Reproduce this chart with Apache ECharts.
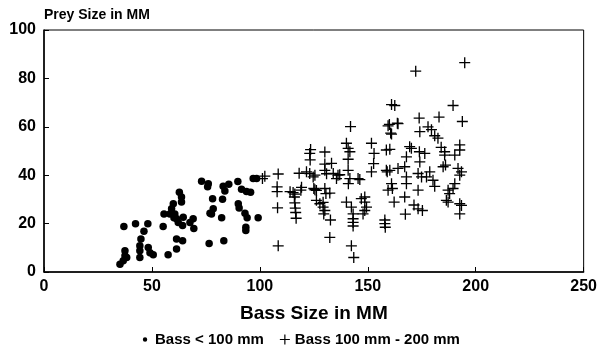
<!DOCTYPE html>
<html>
<head>
<meta charset="utf-8">
<title>Prey Size vs Bass Size</title>
<script src="https://cdn.jsdelivr.net/npm/echarts@6/dist/echarts.min.js"></script>
<style>
  html, body { margin: 0; padding: 0; background: #fff; }
  #chart { width: 600px; height: 358px; }
</style>
</head>
<body>
<div id="chart"></div>
<script>
// series names (legend)
const seriesNames = ['Bass < 100 mm', 'Bass 100 mm - 200 mm'];

// [bass size, prey size]
const smallBass = [
  [35.2, 3.2], [36.7, 4.6], [37.5, 6.7], [37.5, 8.8], [38.3, 6.0], [37.0, 18.8],
  [42.4, 19.9], [48.1, 19.9], [46.3, 16.8], [44.9, 13.6], [44.4, 10.8], [44.4, 8.8],
  [44.4, 6.0], [48.3, 10.1], [49.1, 8.0], [50.6, 7.1], [55.2, 18.8], [55.6, 24.0],
  [57.5, 7.1], [59.1, 26.1], [59.9, 28.2], [58.3, 24.0], [60.6, 24.0], [61.4, 22.0],
  [60.2, 22.4], [62.7, 33.0], [63.7, 31.0], [63.7, 28.9], [62.2, 20.5], [64.2, 19.2],
  [64.5, 22.6], [61.4, 13.6], [64.2, 12.9], [61.4, 9.5], [67.6, 20.5], [69.1, 22.0],
  [69.4, 18.0], [73.0, 37.5], [76.1, 36.5], [75.8, 35.2], [78.1, 30.3], [77.6, 24.0],
  [78.4, 26.1], [76.9, 24.3], [76.5, 11.8], [83.0, 35.4], [83.8, 33.5], [85.6, 36.3],
  [89.8, 37.4], [96.9, 38.6], [98.5, 38.6], [91.5, 34.2], [93.8, 33.3], [95.7, 33.0],
  [82.7, 30.1], [82.3, 22.4], [90.0, 28.2], [90.4, 26.4], [93.1, 24.3], [94.1, 22.4],
  [93.5, 18.5], [93.5, 17.1], [99.2, 22.4], [83.3, 12.9]
];

const bigBass = [
  [101.2, 38.6], [102.3, 39.6], [108.5, 40.5], [108.0, 35.2], [108.0, 33.2], [108.2, 26.5],
  [108.5, 10.8], [114.0, 33.2], [115.4, 32.8], [116.2, 32.2], [116.0, 31.0], [116.2, 28.6],
  [116.4, 26.4], [116.6, 24.6], [116.8, 22.2], [118.2, 40.8], [119.3, 35.0], [119.0, 33.8],
  [121.6, 41.4], [123.1, 40.7], [124.7, 39.3], [125.5, 40.0], [123.5, 50.6], [123.1, 49.0],
  [123.3, 46.3], [125.5, 34.0], [125.0, 34.5], [126.2, 33.7], [126.2, 29.6], [127.8, 28.2],
  [129.3, 26.8], [130.1, 25.4], [129.6, 24.0], [129.3, 28.8], [130.1, 49.6], [130.1, 44.6],
  [130.1, 42.0], [130.9, 40.6], [130.1, 34.5], [130.6, 32.4], [132.4, 32.6], [132.7, 21.5],
  [132.4, 14.3], [133.2, 44.9], [134.0, 40.7], [136.2, 40.0], [135.5, 38.6], [137.0, 40.2],
  [140.1, 53.2], [140.9, 51.1], [141.7, 49.7], [142.0, 60.1], [140.9, 46.6], [140.9, 42.0],
  [141.7, 38.6], [141.0, 36.5], [145.5, 38.6], [146.3, 38.2], [140.1, 28.9], [142.4, 26.8],
  [143.2, 24.0], [143.2, 22.0], [143.2, 20.5], [143.2, 19.0], [142.4, 10.8], [143.5, 6.0],
  [147.0, 30.3], [148.6, 31.0], [148.6, 28.9], [149.4, 26.8], [147.8, 24.0], [148.6, 25.4],
  [151.7, 53.2], [152.9, 49.0], [152.7, 44.8], [151.7, 41.4], [157.9, 21.5], [157.9, 20.0],
  [158.1, 18.5], [158.6, 50.4], [160.2, 50.7], [158.6, 42.0], [159.0, 41.4], [160.2, 42.0],
  [159.4, 33.8], [161.4, 34.5], [161.0, 36.5], [162.2, 28.9], [159.4, 60.4], [160.6, 57.4],
  [160.0, 61.0], [161.0, 69.2], [162.5, 68.8], [163.7, 61.5], [164.0, 61.3], [161.0, 57.0],
  [164.0, 42.8], [167.1, 43.5], [167.9, 39.3], [167.9, 36.5], [167.9, 47.6], [169.4, 51.8],
  [167.1, 31.0], [167.4, 23.9], [170.2, 51.1], [172.2, 83.0], [173.8, 63.6], [174.1, 58.0],
  [173.9, 49.7], [176.4, 49.0], [174.1, 45.5], [173.3, 40.7], [174.9, 39.3], [178.7, 41.4],
  [177.2, 39.3], [180.2, 37.9], [181.0, 35.4], [173.3, 33.8], [171.4, 27.7], [173.3, 26.1],
  [175.3, 25.4], [177.9, 60.0], [179.5, 58.8], [181.0, 56.3], [182.5, 55.3], [183.0, 64.0],
  [184.0, 51.5], [185.6, 49.7], [185.6, 48.3], [184.9, 43.5], [186.0, 44.2], [187.2, 33.8],
  [186.4, 29.6], [187.2, 28.9], [187.9, 32.4], [189.5, 34.5], [190.3, 36.5], [189.5, 68.8],
  [193.8, 62.2], [194.9, 86.5], [190.3, 48.3], [192.6, 52.5], [192.6, 50.4], [191.8, 42.8],
  [193.4, 41.4], [192.6, 40.0], [192.6, 28.2], [193.4, 27.5], [192.6, 24.0]
];

const xTicks = [0, 50, 100, 150, 200, 250];
const yTicks = [0, 20, 40, 60, 80, 100];

const FONT = '"Liberation Sans", Arial, Helvetica, sans-serif';
// filled "+" so it works as a symbol
const PLUS = 'path://M4.4,0 H5.6 V4.4 H10 V5.6 H5.6 V10 H4.4 V5.6 H0 V4.4 H4.4 Z';
// small dot for the legend, padded to a 10x10 box by two zero-area corners
const DOT_ICON = 'path://M0,0 L0.01,0 L0,0.01 Z M10,10 L9.99,10 L10,9.99 Z M5,2.8 A2.2,2.2 0 1 1 5,7.2 A2.2,2.2 0 1 1 5,2.8 Z';

const chart = echarts.init(document.getElementById('chart'), null, { renderer: 'canvas' });

const axisCommon = {
  axisLine: { show: true, lineStyle: { color: '#000', width: 1.5 } },
  axisTick: { show: true, inside: true, length: 5, lineStyle: { color: '#000', width: 1 } },
  splitLine: { show: false },
  axisLabel: { color: '#000', fontFamily: FONT, fontWeight: 'bold', fontSize: 16 }
};

chart.setOption({
  animation: false,
  backgroundColor: '#fff',
  grid: {
    left: 44, right: 16, top: 30, bottom: 86,
    show: true, borderColor: '#000', borderWidth: 1
  },
  xAxis: Object.assign({}, axisCommon, {
    type: 'value',
    min: xTicks[0], max: xTicks[xTicks.length - 1], interval: 50,
    name: 'Bass Size in MM',
    nameLocation: 'middle',
    nameGap: 32,
    nameTextStyle: { color: '#000', fontFamily: FONT, fontWeight: 'bold', fontSize: 19 },
    axisLabel: Object.assign({}, axisCommon.axisLabel, { margin: 7 })
  }),
  yAxis: Object.assign({}, axisCommon, {
    type: 'value',
    min: yTicks[0], max: yTicks[yTicks.length - 1], interval: 20,
    name: 'Prey Size in MM',
    nameLocation: 'end',
    nameGap: 8,
    nameTextStyle: { color: '#000', fontFamily: FONT, fontWeight: 'bold', fontSize: 14, align: 'left' },
    axisLabel: Object.assign({}, axisCommon.axisLabel, { margin: 8 })
  }),
  legend: {
    bottom: 6,
    left: 'center',
    itemGap: 16,
    itemWidth: 10,
    itemHeight: 10,
    textStyle: { color: '#000', fontFamily: FONT, fontWeight: 'bold', fontSize: 15 },
    data: [
      { name: seriesNames[0], icon: DOT_ICON, itemStyle: { color: '#000' } },
      { name: seriesNames[1], icon: PLUS, itemStyle: { color: '#000' } }
    ]
  },
  series: [
    {
      name: seriesNames[0],
      type: 'scatter',
      data: smallBass,
      symbol: 'circle',
      symbolSize: 7.5,
      itemStyle: { color: '#000', opacity: 1 }
    },
    {
      name: seriesNames[1],
      type: 'scatter',
      data: bigBass,
      symbol: PLUS,
      symbolSize: 11,
      itemStyle: { color: '#000', opacity: 1 }
    }
  ]
});
</script>
</body>
</html>
